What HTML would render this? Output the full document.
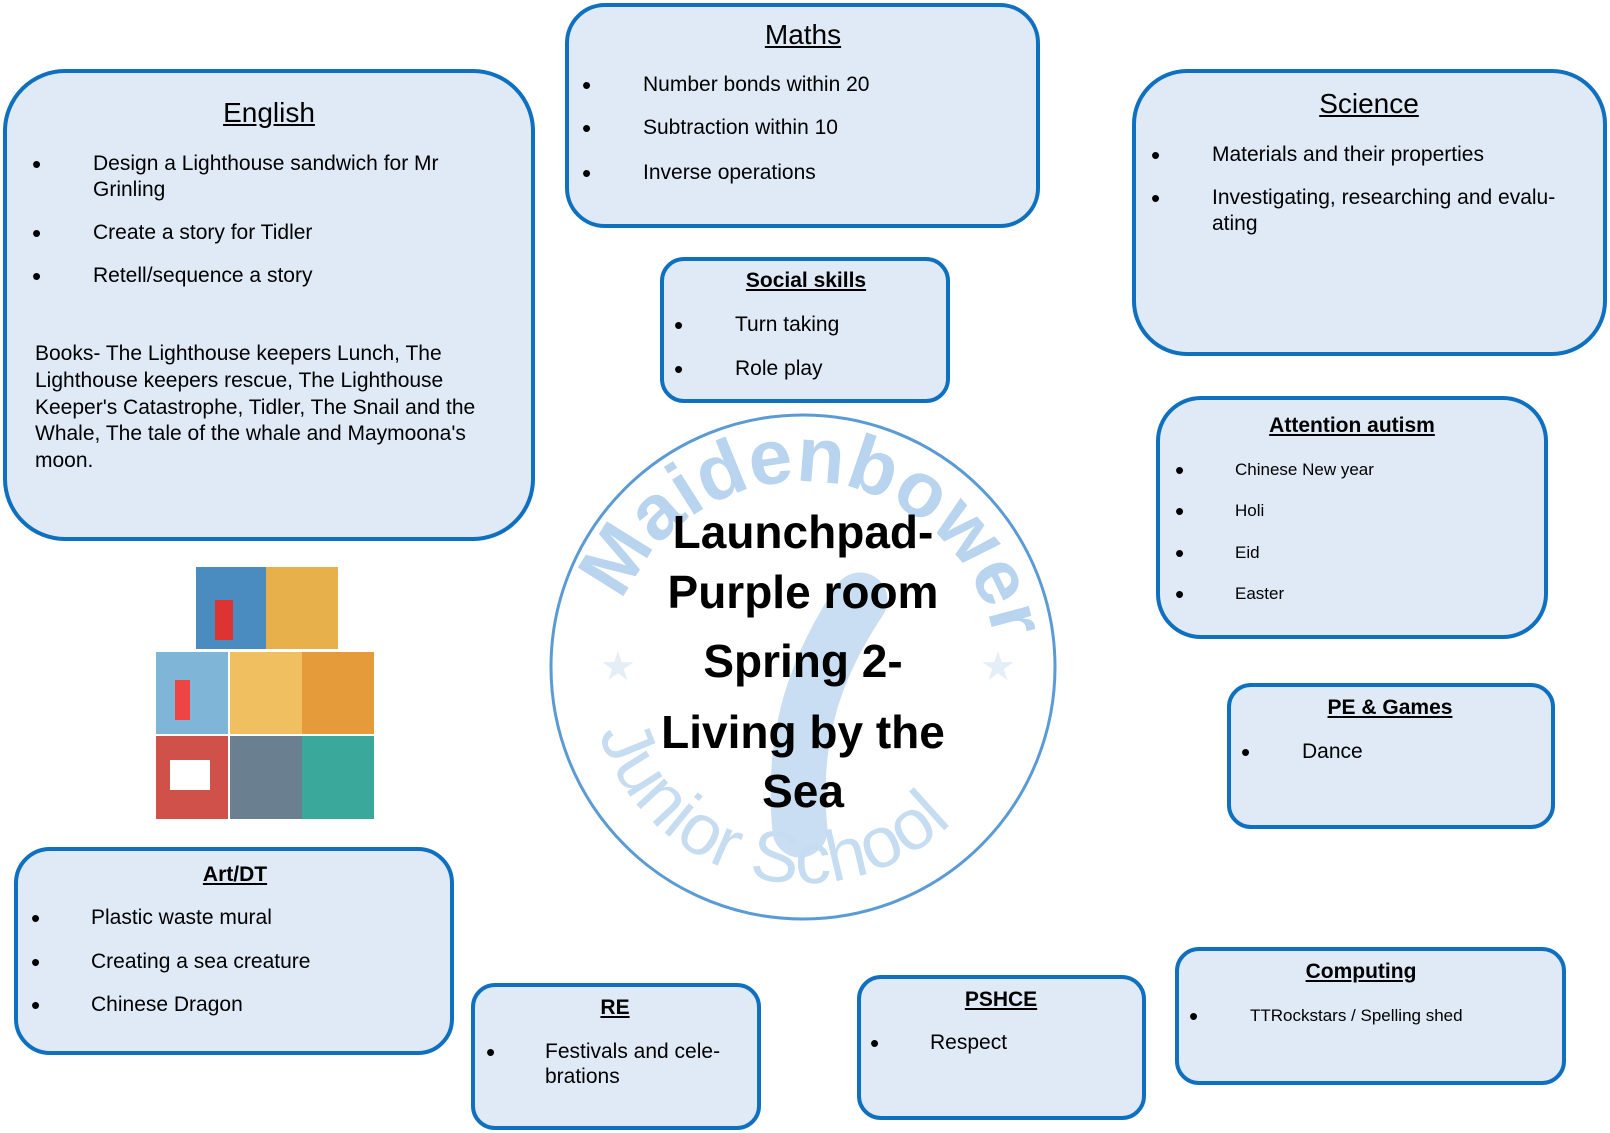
<!DOCTYPE html>
<html><head><meta charset="utf-8"><style>
body{margin:0;width:1610px;height:1133px;background:#fff;position:relative;overflow:hidden;font-family:"Liberation Sans","DejaVu Sans",sans-serif;color:#000}
.b{position:absolute;background:#dfeaf6;border:4px solid #1070c0;border-radius:48px;box-sizing:border-box}
.t{position:absolute;font-size:21px;line-height:24px;white-space:nowrap;transform:translateY(-12px)}
.d{font-size:26px}
.h{position:absolute;font-size:28px;line-height:32px;text-decoration:underline;white-space:nowrap;transform:translate(-50%,-16px)}
.hs{font-size:21px;font-weight:bold;line-height:24px;transform:translate(-50%,-12px)}
.s{font-size:17px}
.c{position:absolute;left:553px;width:500px;text-align:center;font-size:46px;font-weight:bold;line-height:54px;transform:translateY(-27px)}
</style></head><body>
<div class="b" style="left:3px;top:69px;width:532px;height:472px;border-radius:62px"></div>
<div class="b" style="left:565px;top:3px;width:475px;height:225px;border-radius:40px"></div>
<div class="b" style="left:1132px;top:69px;width:475px;height:287px;border-radius:55px"></div>
<div class="b" style="left:660px;top:257px;width:290px;height:146px;border-radius:24px"></div>
<div class="b" style="left:1156px;top:396px;width:392px;height:243px;border-radius:45px"></div>
<div class="b" style="left:1227px;top:683px;width:328px;height:146px;border-radius:24px"></div>
<div class="b" style="left:14px;top:847px;width:440px;height:208px;border-radius:36px"></div>
<div class="b" style="left:471px;top:983px;width:290px;height:147px;border-radius:24px"></div>
<div class="b" style="left:857px;top:975px;width:289px;height:145px;border-radius:24px"></div>
<div class="b" style="left:1175px;top:947px;width:391px;height:138px;border-radius:24px"></div>

<svg style="position:absolute;left:0;top:0" width="1610" height="1133">
<circle cx="803" cy="667" r="252" fill="#fff" stroke="#5b9bd5" stroke-width="3"/>
<defs>
<path id="arcT" d="M617,735 A195,195 0 1 1 989,735"/>
<path id="arcB" d="M590,690 A214,214 0 0 0 1016,690"/>
</defs>
<path d="M860,600 C820,660 790,730 800,830" stroke="#c9def2" stroke-width="55" fill="none" stroke-linecap="round"/>
<text font-family="Liberation Sans,sans-serif" font-size="78" font-weight="bold" fill="#b9d4ee"><textPath href="#arcT" startOffset="136" textLength="500" lengthAdjust="spacingAndGlyphs">Maidenbower</textPath></text>
<text font-family="Liberation Sans,sans-serif" font-size="72" fill="#c6dcf1"><textPath href="#arcB" startOffset="7%">Junior School</textPath></text>
<text x="600" y="680" font-size="40" fill="#e3eef8" font-family="DejaVu Sans">★</text>
<text x="980" y="680" font-size="40" fill="#e3eef8" font-family="DejaVu Sans">★</text>
<g>
<rect x="196" y="567" width="70" height="82" fill="#4a8cc0"/><rect x="266" y="567" width="72" height="82" fill="#e8b04a"/>
<rect x="156" y="652" width="72" height="82" fill="#7fb6d8"/><rect x="230" y="652" width="72" height="82" fill="#f0c060"/><rect x="302" y="652" width="72" height="82" fill="#e59b3a"/>
<rect x="156" y="736" width="72" height="83" fill="#d0504a"/><rect x="230" y="736" width="72" height="83" fill="#6a7f90"/><rect x="302" y="736" width="72" height="83" fill="#3aa89a"/>
<rect x="215" y="600" width="18" height="40" fill="#d33"/><rect x="175" y="680" width="15" height="40" fill="#e44"/><rect x="170" y="760" width="40" height="30" fill="#fff"/>
</g>
</svg>

<div class="h" style="left:269px;top:113px">English</div>
<div class="t d" style="left:32px;top:164px">•</div><div class="t" style="left:93px;top:164px">Design a Lighthouse sandwich for Mr</div>
<div class="t" style="left:93px;top:190px">Grinling</div>
<div class="t d" style="left:32px;top:233px">•</div><div class="t" style="left:93px;top:233px">Create a story for Tidler</div>
<div class="t d" style="left:32px;top:276px">•</div><div class="t" style="left:93px;top:276px">Retell/sequence a story</div>
<div class="t" style="left:35px;top:354px">Books- The Lighthouse keepers Lunch, The</div>
<div class="t" style="left:35px;top:381px">Lighthouse keepers rescue, The Lighthouse</div>
<div class="t" style="left:35px;top:408px">Keeper's Catastrophe, Tidler, The Snail and the</div>
<div class="t" style="left:35px;top:434px">Whale, The tale of the whale and Maymoona's</div>
<div class="t" style="left:35px;top:461px">moon.</div>

<div class="h" style="left:803px;top:35px">Maths</div>
<div class="t d" style="left:582px;top:85px">•</div><div class="t" style="left:643px;top:85px">Number bonds within 20</div>
<div class="t d" style="left:582px;top:128px">•</div><div class="t" style="left:643px;top:128px">Subtraction within 10</div>
<div class="t d" style="left:582px;top:173px">•</div><div class="t" style="left:643px;top:173px">Inverse operations</div>

<div class="h" style="left:1369px;top:104px">Science</div>
<div class="t d" style="left:1151px;top:155px">•</div><div class="t" style="left:1212px;top:155px">Materials and their properties</div>
<div class="t d" style="left:1151px;top:198px">•</div><div class="t" style="left:1212px;top:198px">Investigating, researching and evalu-</div>
<div class="t" style="left:1212px;top:224px">ating</div>

<div class="h hs" style="left:806px;top:281px">Social skills</div>
<div class="t d" style="left:674px;top:325px">•</div><div class="t" style="left:735px;top:325px">Turn taking</div>
<div class="t d" style="left:674px;top:369px">•</div><div class="t" style="left:735px;top:369px">Role play</div>

<div class="h hs" style="left:1352px;top:426px">Attention autism</div>
<div class="t d" style="left:1175px;top:470px">•</div><div class="t s" style="left:1235px;top:470px">Chinese New year</div>
<div class="t d" style="left:1175px;top:511px">•</div><div class="t s" style="left:1235px;top:511px">Holi</div>
<div class="t d" style="left:1175px;top:553px">•</div><div class="t s" style="left:1235px;top:553px">Eid</div>
<div class="t d" style="left:1175px;top:594px">•</div><div class="t s" style="left:1235px;top:594px">Easter</div>

<div class="h hs" style="left:1390px;top:708px">PE &amp; Games</div>
<div class="t d" style="left:1241px;top:752px">•</div><div class="t" style="left:1302px;top:752px">Dance</div>

<div class="h hs" style="left:235px;top:875px">Art/DT</div>
<div class="t d" style="left:31px;top:918px">•</div><div class="t" style="left:91px;top:918px">Plastic waste mural</div>
<div class="t d" style="left:31px;top:962px">•</div><div class="t" style="left:91px;top:962px">Creating a sea creature</div>
<div class="t d" style="left:31px;top:1005px">•</div><div class="t" style="left:91px;top:1005px">Chinese Dragon</div>

<div class="h hs" style="left:615px;top:1008px">RE</div>
<div class="t d" style="left:486px;top:1052px">•</div><div class="t" style="left:545px;top:1052px">Festivals and cele-</div>
<div class="t" style="left:545px;top:1077px">brations</div>

<div class="h hs" style="left:1001px;top:1000px">PSHCE</div>
<div class="t d" style="left:870px;top:1043px">•</div><div class="t" style="left:930px;top:1043px">Respect</div>

<div class="h hs" style="left:1361px;top:972px">Computing</div>
<div class="t d" style="left:1189px;top:1016px">•</div><div class="t s" style="left:1250px;top:1016px">TTRockstars / Spelling shed</div>

<div class="c" style="top:532px">Launchpad-</div>
<div class="c" style="top:592px">Purple room</div>
<div class="c" style="top:661px">Spring 2-</div>
<div class="c" style="top:732px">Living by the</div>
<div class="c" style="top:791px">Sea</div>
</body></html>
